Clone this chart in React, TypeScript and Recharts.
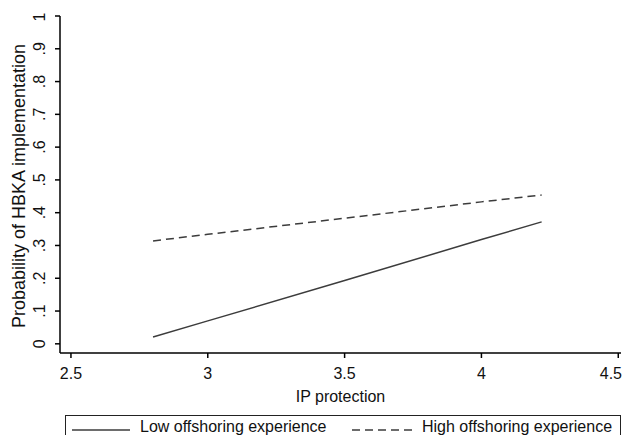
import React from "react";
import { LineChart, Line, XAxis, YAxis } from "recharts";

// values
const ipProtection = [2.8, 3, 3.5, 4, 4.22];
const lowOffshoring = [0.021, 0.07, 0.193, 0.318, 0.372];
const highOffshoring = [0.314, 0.334, 0.383, 0.433, 0.454];

const xTicks = [2.5, 3, 3.5, 4, 4.5];
const yTicks = [0, 0.1, 0.2, 0.3, 0.4, 0.5, 0.6, 0.7, 0.8, 0.9, 1];

const seriesNames = ["Low offshoring experience", "High offshoring experience"];
const xTitle = "IP protection";
const yTitle = "Probability of HBKA implementation";

const data = ipProtection.map((x, i) => ({ x, low: lowOffshoring[i], high: highOffshoring[i] }));

const W = 615;
const H = 427;
const FONT = '"Liberation Sans", Arial, sans-serif';
const LINE_COLOR = "#3c3c3c";

const fmtY = (v: number) => (v === 0 ? "0" : v === 1 ? "1" : v.toFixed(1).replace(/^0/, ""));

function YTick(props: any) {
  const { y, payload } = props;
  return (
    <text
      transform={`translate(37,${y}) rotate(-90)`}
      textAnchor="middle"
      fontSize={16}
      fontFamily={FONT}
      fill="#111"
    >
      {fmtY(payload.value)}
    </text>
  );
}

function XTick(props: any) {
  const { x, y, payload } = props;
  // the last label would run past the edge of the picture, keep it inside
  const tooFar = x + 12 > W;
  return (
    <text
      x={tooFar ? W - 1 : x}
      y={y}
      dy="0.71em"
      textAnchor={tooFar ? "end" : "middle"}
      fontSize={16}
      fontFamily={FONT}
      fill="#111"
    >
      {payload.value}
    </text>
  );
}

function ChartLegend() {
  return (
    <div
      style={{
        position: "absolute",
        left: 57,
        top: 407,
        width: 554,
        height: 20,
        borderTop: "1.5px solid #222",
        borderLeft: "1.5px solid #222",
        borderRight: "1.5px solid #222",
        fontFamily: FONT,
        fontSize: 16,
        color: "#111",
      }}
    >
      <svg width={60} height={10} style={{ position: "absolute", left: 6, top: 9 }}>
        <line x1={0} y1={5} x2={58} y2={5} stroke={LINE_COLOR} strokeWidth={1.5} />
      </svg>
      <span style={{ position: "absolute", left: 74, top: 2, whiteSpace: "nowrap", lineHeight: "18px" }}>
        {seriesNames[0]}
      </span>
      <svg width={62} height={10} style={{ position: "absolute", left: 286, top: 9 }}>
        <line x1={0} y1={5} x2={60} y2={5} stroke={LINE_COLOR} strokeWidth={1.5} strokeDasharray="8 5" />
      </svg>
      <span style={{ position: "absolute", left: 356, top: 2, whiteSpace: "nowrap", lineHeight: "18px" }}>
        {seriesNames[1]}
      </span>
    </div>
  );
}

export default function App() {
  return (
    <div style={{ position: "relative", width: W, height: H, background: "#fff" }}>
      <LineChart width={W} height={H} data={data} margin={{ top: 8, right: 2, left: 0, bottom: 0 }}>
        <XAxis
          dataKey="x"
          type="number"
          domain={[2.46, 4.51]}
          ticks={xTicks}
          allowDataOverflow
          height={82}
          tickSize={5}
          tickMargin={10}
          stroke="#000"
          strokeWidth={1.5}
          tick={<XTick />}
          label={{
            content: () => (
              <text x={332.5} y={394} textAnchor="middle" fontSize={16} fontFamily={FONT} fill="#111">
                {xTitle}
              </text>
            ),
          }}
        />
        <YAxis
          type="number"
          domain={[-0.028, 1]}
          ticks={yTicks}
          allowDataOverflow
          width={52}
          tickSize={5}
          stroke="#000"
          strokeWidth={1.5}
          tick={<YTick />}
          label={{
            content: () => (
              <text
                transform="translate(16.5,178) rotate(-90)"
                textAnchor="middle"
                fontSize={18}
                fontFamily={FONT}
                fill="#111"
              >
                {yTitle}
              </text>
            ),
          }}
        />
        <Line
          dataKey="low"
          type="linear"
          stroke={LINE_COLOR}
          strokeWidth={1.5}
          dot={false}
          isAnimationActive={false}
        />
        <Line
          dataKey="high"
          type="linear"
          stroke={LINE_COLOR}
          strokeWidth={1.5}
          strokeDasharray="8 5"
          dot={false}
          isAnimationActive={false}
        />
      </LineChart>
      <ChartLegend />
    </div>
  );
}
